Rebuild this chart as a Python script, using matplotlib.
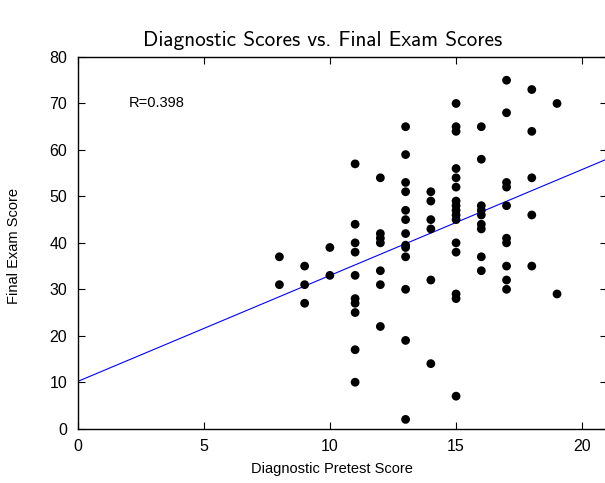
import numpy as np
import matplotlib
matplotlib.use("Agg")
import matplotlib.pyplot as plt

# Data
pretest_groups = [8, 9, 10, 11, 12, 13, 14, 15, 16, 17, 18, 19]
final_8 = [37, 31]
final_9 = [35, 31, 27]
final_10 = [39, 33]
final_11 = [57, 44, 40, 38, 33, 28, 27, 25, 17, 10]
final_12 = [54, 42, 41, 40, 34, 31, 22]
final_13 = [65, 59, 53, 51, 47, 45, 42, 39.5, 39, 37, 30, 19, 2]
final_14 = [51, 49, 45, 43, 32, 14]
final_15 = [70, 65, 64, 56, 54, 52, 49, 48, 47, 46, 45, 40, 38, 29, 28, 7]
final_16 = [65, 58, 48, 47, 46, 44, 43, 37, 34]
final_17 = [75, 68, 53, 52, 48, 41, 40, 35, 32, 30]
final_18 = [73, 64, 54, 46, 35]
final_19 = [70, 29]
final_groups = [final_8, final_9, final_10, final_11, final_12, final_13,
                final_14, final_15, final_16, final_17, final_18, final_19]

r_label = "R=0.398"
title = "Diagnostic Scores vs. Final Exam Scores"
xlabel = "Diagnostic Pretest Score"
ylabel = "Final Exam Score"
xticks = [0, 5, 10, 15, 20]
yticks = [0, 10, 20, 30, 40, 50, 60, 70, 80]

x = np.concatenate([[g] * len(v) for g, v in zip(pretest_groups, final_groups)]).astype(float)
y = np.concatenate(final_groups).astype(float)

W, H = 605, 483
fig = plt.figure(figsize=(W / 100, H / 100), dpi=100)
left, right, top, bottom = 77.5, 607.5, 57.0, 428.7
ax = fig.add_axes([left / W, 1 - bottom / H, (right - left) / W, (bottom - top) / H])

ax.scatter(x, y, s=40, color="black", edgecolors="none", zorder=3)

slope, intercept = np.polyfit(x, y, 1)
xl = np.array([0, 21])
ax.plot(xl, intercept + slope * xl, color="blue", lw=0.8, zorder=2)

ax.set_xlim(0, 21)
ax.set_ylim(0, 80)
ax.set_xticks(xticks)
ax.set_yticks(yticks)
tick_font = {"family": "Liberation Sans", "size": 11.5}
ax.set_xticklabels([str(t) for t in xticks], fontdict=tick_font)
ax.set_yticklabels([str(t) for t in yticks], fontdict=tick_font)
ax.tick_params(direction="in", length=5, width=0.8, top=True, right=True, pad=7.5)
for s in ax.spines.values():
    s.set_linewidth(1.0)
ax.spines["right"].set_visible(False)

ax.text(2.05, 70, r_label, ha="left", va="center", family="Liberation Sans", fontsize=10.5)

fig.text(323 / W, 1 - 41 / H, title, ha="center", va="center", family="cmss10", fontsize=15.3)
fig.text(332 / W, 1 - 469 / H, xlabel, ha="center", va="center", family="Liberation Sans", fontsize=10.5)
fig.text(14 / W, 1 - 246 / H, ylabel, ha="center", va="center", rotation=90, family="Liberation Sans", fontsize=10.5)

fig.savefig("out.png", dpi=100)
